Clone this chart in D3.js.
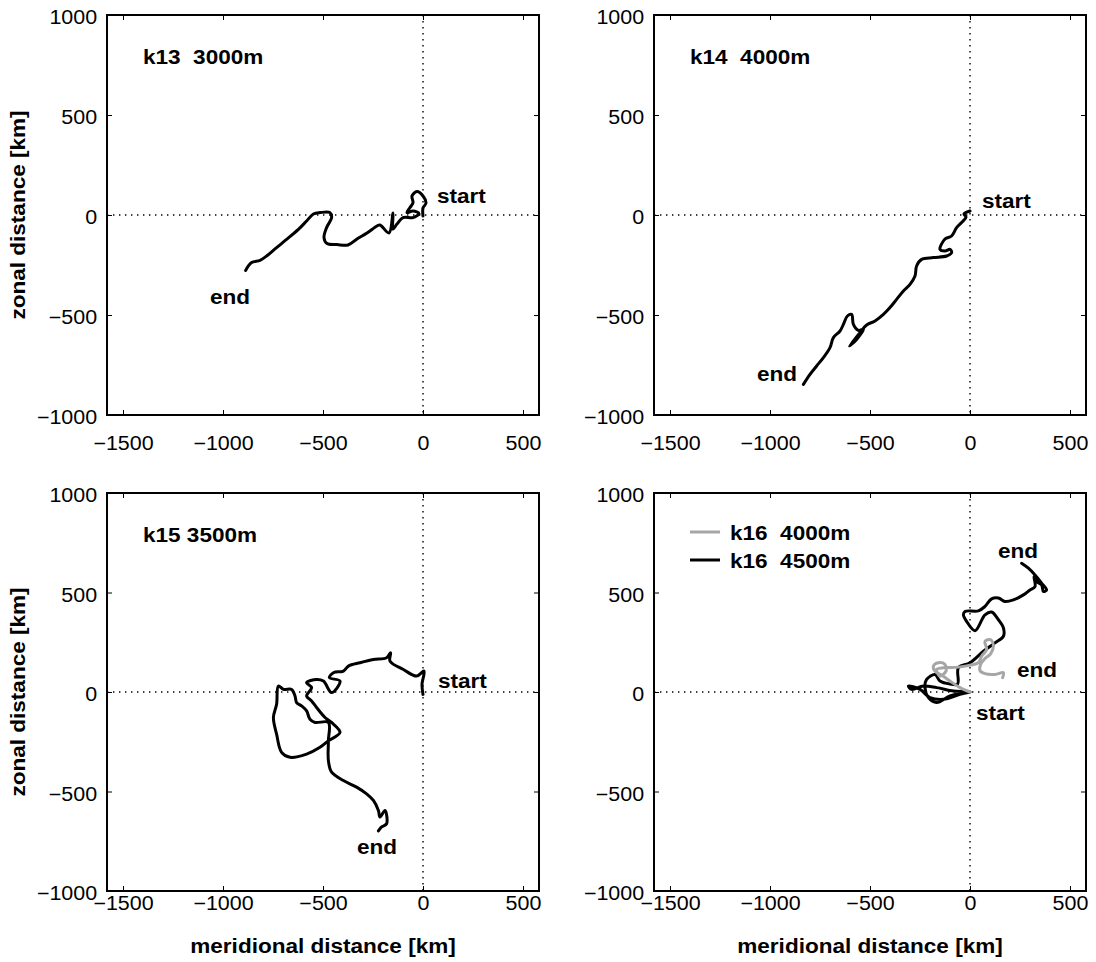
<!DOCTYPE html>
<html>
<head>
<meta charset="utf-8">
<script src="https://cdn.jsdelivr.net/npm/d3@7"></script>
<style>
  body { margin: 0; background: #fff; }
  svg { display: block; }
  text { white-space: pre; }
</style>
</head>
<body>
<svg id="chart" width="1096" height="962"></svg>
<script>
// float tracks, [meridional km, zonal km], from start to end
const k13Track = [[0,-5],[0,35],[15,60],[0,95],[-30,117],[-55,95],[-50,62],[-65,37],[-80,12],[-50,20],[-20,7],
  [-50,-13],[-100,-13],[-130,-45],[-150,-70],[-150,10],[-170,-90],[-215,-50],[-230,-55],[-280,-90],[-330,-120],
  [-375,-150],[-430,-148],[-480,-143],[-495,-113],[-482,-63],[-457,-13],[-465,12],[-515,12],[-548,5],[-582,-30],
  [-623,-72],[-682,-122],[-732,-163],[-782,-205],[-815,-227],[-857,-238],[-887,-277]];

const k14Track = [[0,20],[-30,5],[-20,-10],[-42,-38],[-67,-63],[-92,-105],[-125,-120],[-150,-172],[-125,-180],
  [-100,-172],[-92,-188],[-117,-205],[-183,-213],[-242,-222],[-267,-255],[-275,-305],[-300,-347],[-333,-380],
  [-367,-422],[-400,-463],[-433,-497],[-475,-530],[-517,-550],[-550,-588],[-603,-655],[-567,-622],[-533,-572],
  [-558,-577],[-583,-547],[-592,-497],[-613,-505],[-633,-547],[-650,-580],[-683,-613],[-700,-663],[-733,-713],
  [-767,-755],[-800,-797],[-833,-847]];

const k15Track = [[0,-12],[-5,38],[5,105],[-32,80],[-98,113],[-165,155],[-162,197],[-182,172],[-248,163],
  [-315,147],[-373,130],[-398,105],[-448,97],[-468,72],[-415,55],[-457,-3],[-498,55],[-532,63],[-582,47],
  [-557,22],[-582,-20],[-557,-45],[-532,-78],[-490,-128],[-457,-153],[-415,-203],[-473,-245],[-515,-278],
  [-582,-312],[-665,-328],[-707,-303],[-732,-212],[-748,-128],[-732,-62],[-723,30],[-698,13],[-657,13],
  [-640,-20],[-632,-53],[-607,-70],[-582,-95],[-565,-137],[-540,-153],[-473,-153],[-473,-245],[-473,-345],
  [-457,-403],[-398,-445],[-332,-478],[-282,-512],[-248,-545],[-223,-595],[-215,-628],[-190,-595],
  [-182,-662],[-207,-678],[-223,-698]];

const k16Deep = [[0,0],[-50,-12],[-133,-37],[-200,-28],[-250,13],[-308,30],[-292,13],[-233,30],[-167,22],
  [-83,5],[-15,0],[-100,-20],[-167,-53],[-208,-28],[-225,22],[-217,63],[-175,88],[-150,55],[-100,40],
  [-62,40],[-58,122],[0,147],[67,205],[125,247],[167,280],[167,322],[142,363],[108,402],[75,388],[25,308],
  [-17,355],[-33,388],[-25,405],[42,408],[75,430],[108,468],[142,472],[175,455],[217,463],[267,488],
  [300,513],[325,530],[320,580],[333,555],[358,538],[367,505],[383,513],[358,547],[325,588],[292,622],[258,647]];

const k16Shallow = [[0,0],[-50,22],[-100,55],[-142,85],[-175,105],[-183,130],[-158,147],[-125,138],[-120,105],
  [-150,80],[-167,113],[-133,122],[-58,125],[0,135],[42,147],[58,180],[83,213],[75,255],[103,263],[117,230],
  [103,192],[75,168],[53,138],[50,108],[75,92],[125,88],[167,97],[163,72]];

const xTicks = [-1500, -1000, -500, 0, 500];
const yTicks = [-1000, -500, 0, 500, 1000];

const FONT = '"Liberation Sans", Arial, Helvetica, sans-serif';
const SX = 1.1;   // the original type is a bit wider than Arial

const svg = d3.select("#chart");

const panels = [
  { left: 107, top: 15, h: 400, title: "k13  3000m", yTitle: true, xTitle: false, tickPad: 21,
    tracks: [{ data: k13Track, color: "#000" }],
    notes: [{ t: "start", x: 70, y: 60, a: "start" }, { t: "end", x: -1065, y: -445, a: "start" }] },
  { left: 654, top: 15, h: 400, title: "k14  4000m", yTitle: false, xTitle: false, tickPad: 21,
    tracks: [{ data: k14Track, color: "#000" }],
    notes: [{ t: "start", x: 60, y: 35, a: "start" }, { t: "end", x: -865, y: -830, a: "end" }] },
  { left: 107, top: 493, h: 398, title: "k15 3500m", yTitle: true, xTitle: true, tickPad: 5,
    tracks: [{ data: k15Track, color: "#000" }],
    notes: [{ t: "start", x: 75, y: 20, a: "start" }, { t: "end", x: -230, y: -815, a: "middle" }] },
  { left: 654, top: 493, h: 398, title: null, yTitle: false, xTitle: true, tickPad: 5,
    tracks: [{ data: k16Deep, color: "#000" }, { data: k16Shallow, color: "#a6a6a6" }],
    legend: [{ t: "k16  4000m", color: "#a6a6a6" }, { t: "k16  4500m", color: "#000" }],
    notes: [{ t: "end", x: 140, y: 675, a: "start" }, { t: "end", x: 235, y: 75, a: "start" },
            { t: "start", x: 30, y: -140, a: "start" }] }
];

const W = 432;
const fmt = d3.format("d");

function label(g, x, y, str, anchor, bold, size, rotate) {
  return g.append("text")
    .attr("transform", `translate(${x},${y})` + (rotate ? ` rotate(${rotate})` : "") + ` scale(${SX},1)`)
    .attr("text-anchor", anchor)
    .attr("xml:space", "preserve")
    .style("font-family", FONT)
    .style("font-size", size + "px")
    .style("font-weight", bold ? "bold" : "normal")
    .attr("fill", "#000")
    .text(str);
}

panels.forEach(p => {
  const g = svg.append("g").attr("transform", `translate(${p.left},${p.top})`);
  const x = d3.scaleLinear().domain([-1580, 580]).range([0, W]);
  const y = d3.scaleLinear().domain([-1000, 1000]).range([p.h, 0]);

  // dotted zero lines
  g.append("line").attr("x1", 0).attr("x2", W).attr("y1", y(0)).attr("y2", y(0))
    .attr("stroke", "#000").attr("stroke-width", 1.4).attr("stroke-dasharray", "1.4,4.6");
  g.append("line").attr("x1", x(0)).attr("x2", x(0)).attr("y1", 0).attr("y2", p.h)
    .attr("stroke", "#000").attr("stroke-width", 1.4).attr("stroke-dasharray", "1.4,4.6");

  // axes, ticks pointing inward
  const bottom = g.append("g").attr("transform", `translate(0,${p.h})`)
    .call(d3.axisBottom(x).tickValues(xTicks).tickFormat(fmt).tickSizeInner(-5).tickSizeOuter(0).tickPadding(p.tickPad));
  g.append("g").call(d3.axisTop(x).tickValues(xTicks).tickSizeInner(-5).tickSizeOuter(0).tickFormat(""));
  const left = g.append("g")
    .call(d3.axisLeft(y).tickValues(yTicks).tickFormat(fmt).tickSizeInner(-5).tickSizeOuter(0).tickPadding(9));
  g.append("g").attr("transform", `translate(${W},0)`)
    .call(d3.axisRight(y).tickValues(yTicks).tickSizeInner(-5).tickSizeOuter(0).tickFormat(""));
  g.selectAll(".domain").remove();
  g.selectAll(".tick line").attr("stroke", "#000").attr("stroke-width", 1);

  bottom.selectAll("text")
    .style("font-family", FONT).style("font-size", "19.5px").attr("fill", "#000")
    .attr("transform", `scale(${SX},1)`);
  left.selectAll("text")
    .style("font-family", FONT).style("font-size", "19.5px").attr("fill", "#000")
    .attr("dy", "0.46em").attr("transform", `scale(${SX},1)`);

  // tracks
  const line = d3.line().x(d => x(d[0])).y(d => y(d[1])).curve(d3.curveCatmullRom.alpha(0.5));
  p.tracks.forEach(t => {
    g.append("path").datum(t.data)
      .attr("d", line)
      .attr("fill", "none")
      .attr("stroke", t.color)
      .attr("stroke-width", 3)
      .attr("stroke-linejoin", "round")
      .attr("stroke-linecap", "round");
  });

  // frame
  g.append("rect").attr("width", W).attr("height", p.h)
    .attr("fill", "none").attr("stroke", "#000").attr("stroke-width", 2);

  if (p.title) label(g, 36, 49, p.title, "start", true, 20.5);

  if (p.legend) {
    p.legend.forEach((l, i) => {
      g.append("line").attr("x1", 36).attr("x2", 66)
        .attr("y1", 39 + i * 28).attr("y2", 39 + i * 28)
        .attr("stroke", l.color).attr("stroke-width", 3);
      label(g, 76, 47 + i * 28, l.t, "start", true, 20.5);
    });
  }

  p.notes.forEach(n => label(g, x(n.x), y(n.y), n.t, n.a, true, 20.5));

  if (p.yTitle) label(svg, 25, p.top + p.h / 2, "zonal distance [km]", "middle", true, 20.5, -90);
  if (p.xTitle) label(svg, p.left + W / 2, 953, "meridional distance [km]", "middle", true, 20.5);
});
</script>
</body>
</html>
